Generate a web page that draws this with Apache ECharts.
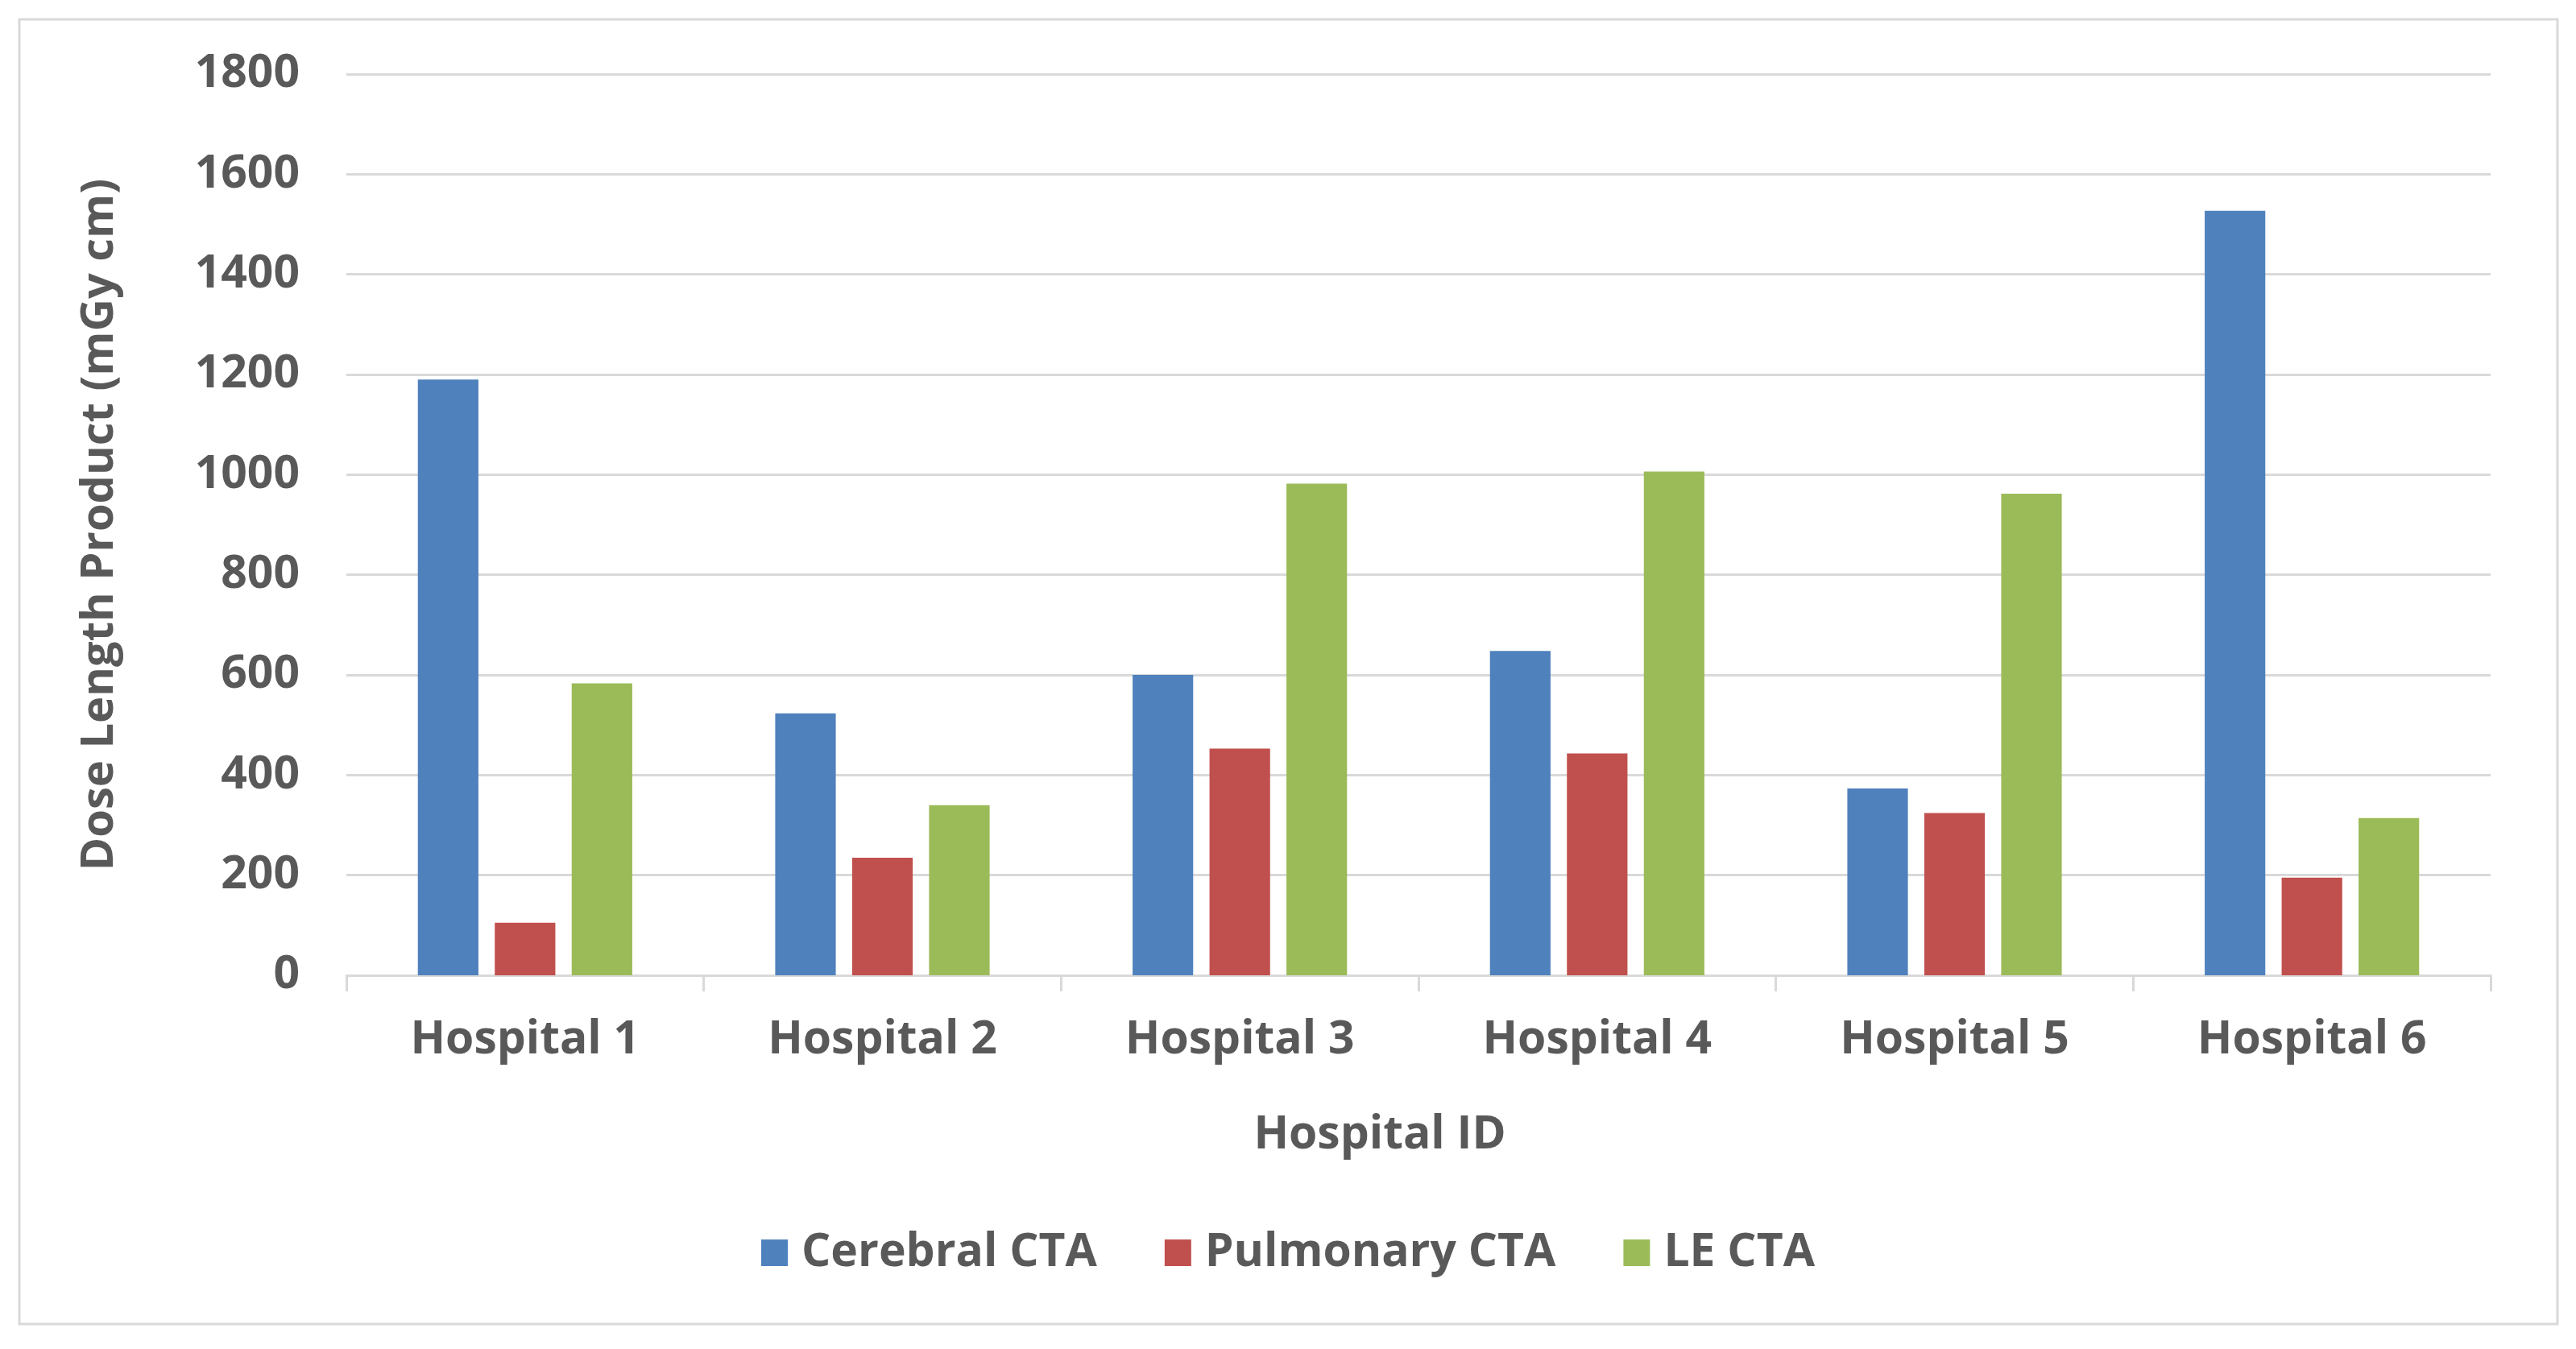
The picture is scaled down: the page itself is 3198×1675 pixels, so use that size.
<!DOCTYPE html>
<html>
<head>
<meta charset="utf-8">
<title>Dose Length Product by Hospital</title>
<script src="https://cdn.jsdelivr.net/npm/echarts@6/dist/echarts.min.js"></script>
<style>
html, body {
	margin: 0;
	padding: 0;
	width: 100%;
	height: 100%;
	background: #ffffff;
}
#chart {
	width: 3198px;
	height: 1675px;
}
</style>
</head>
<body>
<div id="chart"></div>
<script type="text/javascript">
    // data
    var hospitals = ['Hospital 1', 'Hospital 2', 'Hospital 3', 'Hospital 4', 'Hospital 5', 'Hospital 6'];
    var seriesNames = ['Cerebral CTA', 'Pulmonary CTA', 'LE CTA'];
    var cerebral = [1190, 523, 600, 648, 373, 1527];
    var pulmonary = [105, 235, 453, 443, 324, 195];
    var leCta = [583, 340, 982, 1006, 962, 314];
    var yTicks = {min: 0, max: 1800, interval: 200};

    var colors = ['#4F81BD', '#C0504D', '#9BBB59'];
    var textColor = '#595959';
    var font = '"Open Sans", "Noto Sans", sans-serif';

    var myChart = echarts.init(document.getElementById('chart'));

    function bar(name, values) {
        return {
            name: name,
            type: 'bar',
            data: values,
            barGap: '27%',
            barCategoryGap: '40%'
        };
    }

    option = {
        color: colors,
        animation: false,
        textStyle: {fontFamily: font},
        graphic: [{
            type: 'rect',
            shape: {x: 24, y: 24, width: 3151, height: 1620},
            style: {fill: 'none', stroke: '#D9D9D9', lineWidth: 3}
        }],
        grid: {left: 430, right: 106, top: 92, bottom: 464},
        legend: {
            data: seriesNames,
            left: 'center',
            top: 1522,
            icon: 'rect',
            itemWidth: 33,
            itemHeight: 33,
            itemGap: 84,
            textStyle: {
                color: textColor,
                fontSize: 57,
                fontWeight: 'bold',
                fontFamily: font,
                padding: [0, 0, 0, 12]
            }
        },
        xAxis: {
            type: 'category',
            data: hospitals,
            name: 'Hospital ID',
            nameLocation: 'middle',
            nameGap: 170,
            nameTextStyle: {
                color: textColor,
                fontSize: 57,
                fontWeight: 'bold',
                fontFamily: font,
                padding: [0, 96, 0, 0]
            },
            axisLine: {lineStyle: {color: '#D9D9D9', width: 3}},
            axisTick: {show: true, length: 20, lineStyle: {color: '#D9D9D9', width: 3}},
            axisLabel: {
                color: textColor,
                fontSize: 57,
                fontWeight: 'bold',
                fontFamily: font,
                margin: 52
            }
        },
        yAxis: {
            type: 'value',
            min: yTicks.min,
            max: yTicks.max,
            interval: yTicks.interval,
            name: 'Dose Length Product (mGy cm)',
            nameLocation: 'middle',
            nameGap: 278,
            nameTextStyle: {
                color: textColor,
                fontSize: 56,
                fontWeight: 'bold',
                fontFamily: font
            },
            axisLine: {show: false},
            axisTick: {show: false},
            splitLine: {lineStyle: {color: '#D9D9D9', width: 3}},
            axisLabel: {
                color: textColor,
                fontSize: 57,
                fontWeight: 'bold',
                fontFamily: font,
                margin: 58,
                formatter: function (v) { return String(v); }
            }
        },
        series: [
            bar(seriesNames[0], cerebral),
            bar(seriesNames[1], pulmonary),
            bar(seriesNames[2], leCta)
        ]
    };

    myChart.setOption(option);
</script>
</body>
</html>
